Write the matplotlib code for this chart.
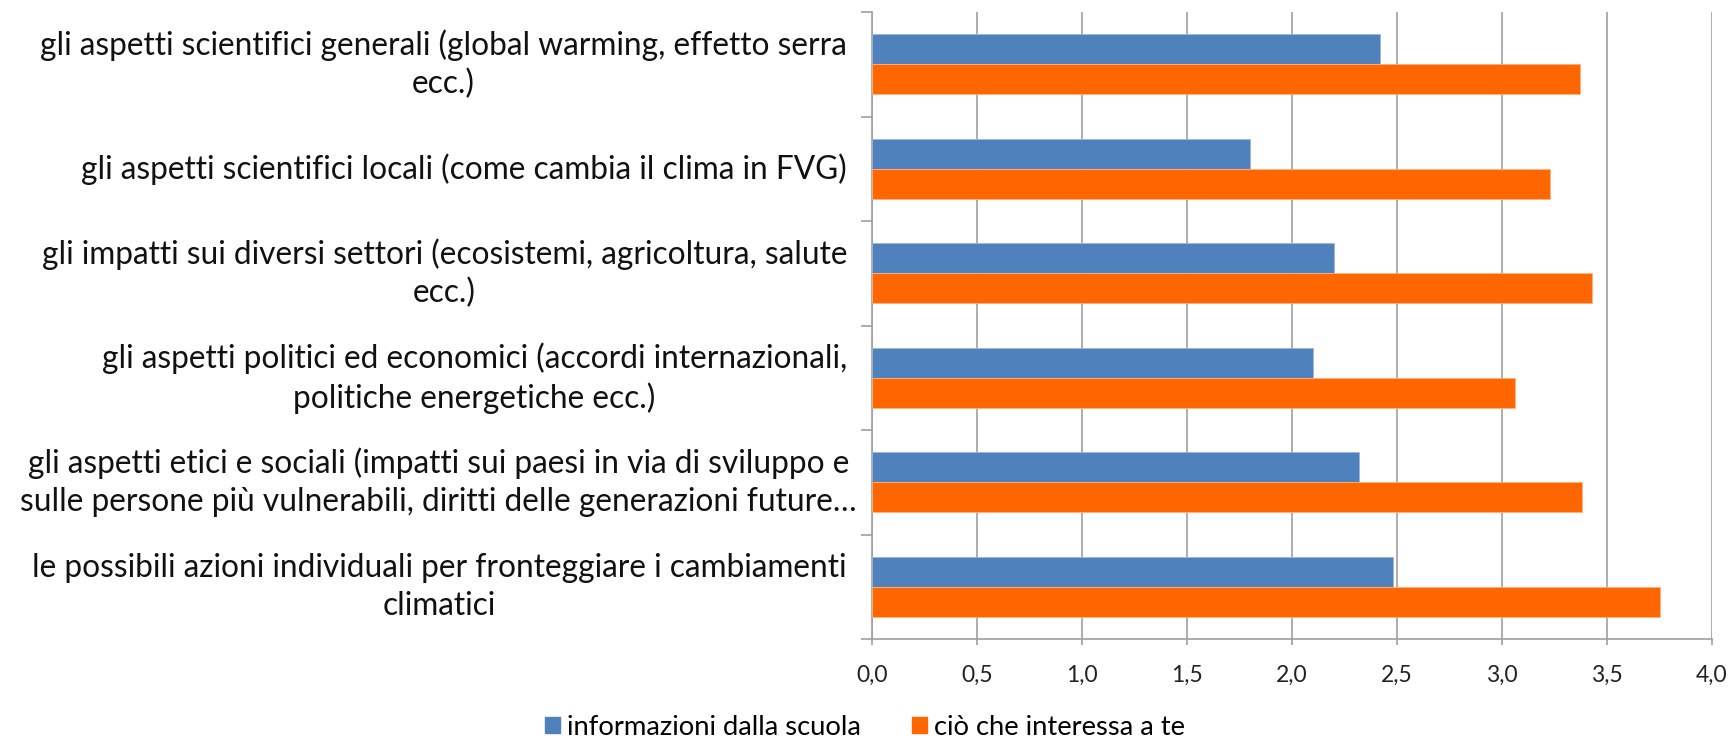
import matplotlib
matplotlib.use('Agg')
import matplotlib.pyplot as plt
import numpy as np
from matplotlib.ticker import FuncFormatter, FixedLocator
from matplotlib.patches import Patch

categories = [
    'gli aspetti scientifici generali (global warming, effetto serra\necc.)',
    'gli aspetti scientifici locali (come cambia il clima in FVG)',
    'gli impatti sui diversi settori (ecosistemi, agricoltura, salute\necc.)',
    'gli aspetti politici ed economici (accordi internazionali,\npolitiche energetiche ecc.)',
    'gli aspetti etici e sociali (impatti sui paesi in via di sviluppo e\nsulle persone più vulnerabili, diritti delle generazioni future…',
    'le possibili azioni individuali per fronteggiare i cambiamenti\nclimatici',
]
scuola = [2.42, 1.80, 2.20, 2.10, 2.32, 2.48]
interesse = [3.37, 3.23, 3.43, 3.06, 3.38, 3.75]
series_names = ['informazioni dalla scuola', 'ciò che interessa a te']
x_ticks = [0.0, 0.5, 1.0, 1.5, 2.0, 2.5, 3.0, 3.5, 4.0]

blue = '#4F81BD'
orange = '#FF6600'
grey = '#A0A0A0'

plt.rcParams['font.family'] = ['Lato', 'DejaVu Sans']

fig = plt.figure(figsize=(17.3, 7.4), dpi=100)
ax = fig.add_axes([872 / 1730, 1 - 639 / 740, (1712 - 872) / 1730, (639 - 12) / 740])

n = len(categories)
y = np.arange(n)
h = 2 / 7  # Excel gap width 150%
ax.barh(y - h / 2, scuola, height=h, color=blue, edgecolor='#9DB7DA', linewidth=0.6, zorder=3)
ax.barh(y + h / 2, interesse, height=h, color=orange, edgecolor='#FFB27F', linewidth=0.6, zorder=3)

ax.set_ylim(n - 0.5, -0.5)
ax.set_xlim(0, 4.0)

ax.xaxis.set_major_locator(FixedLocator(x_ticks))
ax.xaxis.set_major_formatter(FuncFormatter(lambda v, p: f'{v:.1f}'.replace('.', ',')))
ax.grid(axis='x', color=grey, linewidth=1.2, zorder=0)
ax.tick_params(axis='x', direction='out', length=4.5, width=1.2, color=grey,
               labelsize=16.5, pad=14, labelcolor='#222222')

# category separators as ticks, labels drawn separately
ax.yaxis.set_major_locator(FixedLocator(np.arange(-0.5, n, 1)))
ax.set_yticklabels([])
ax.tick_params(axis='y', direction='out', length=8, width=1.2, color=grey)

for i, lab in enumerate(categories):
    ax.annotate(lab, xy=(0, i), xycoords=('axes fraction', 'data'),
                xytext=(-18 if i != 4 else -11, 0), textcoords='offset points',
                ha='right', va='center', multialignment='center',
                fontsize=22.8, color='#111111', linespacing=1.33)

for s in ['top', 'right']:
    ax.spines[s].set_visible(False)
for s in ['left', 'bottom']:
    ax.spines[s].set_color(grey)
    ax.spines[s].set_linewidth(1.2)

handles = [Patch(color=blue), Patch(color=orange)]
fig.legend(handles, series_names, loc='center', bbox_to_anchor=(0.5, 0.017), ncol=2,
           frameon=False, fontsize=19.7, handlelength=0.55, handleheight=0.55,
           handletextpad=0.25, columnspacing=1.9, borderpad=0.1)

fig.savefig('out.png', dpi=100)
